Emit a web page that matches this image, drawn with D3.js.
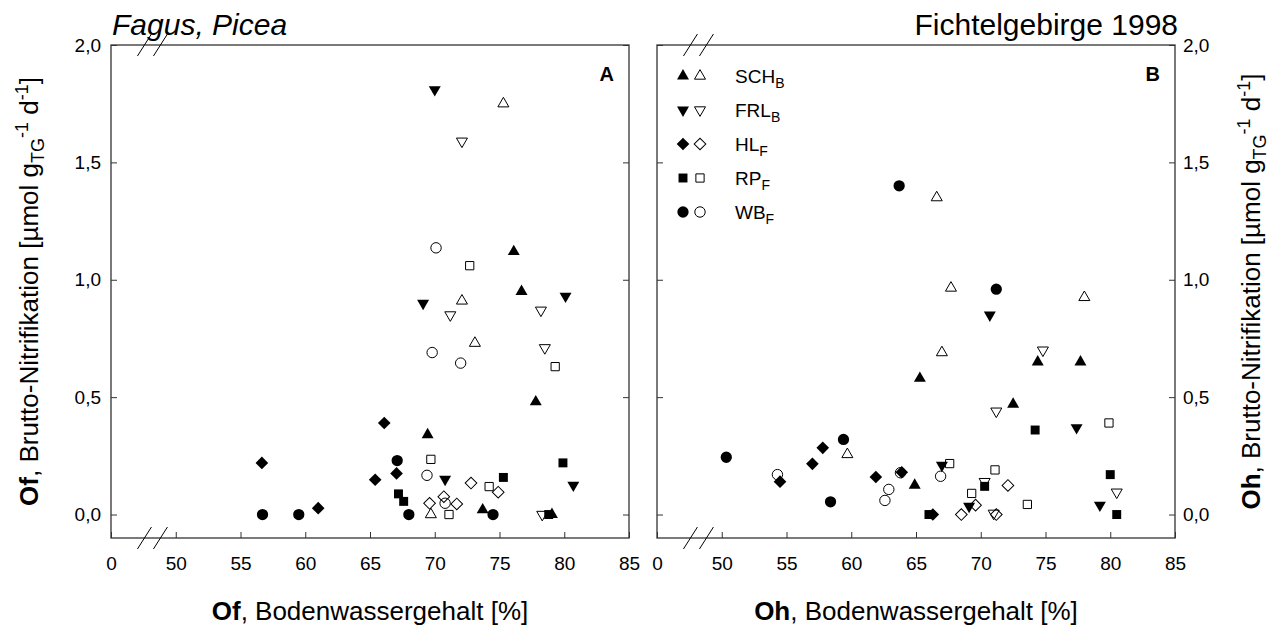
<!DOCTYPE html>
<html>
<head>
<meta charset="utf-8">
<script src="https://cdn.jsdelivr.net/npm/d3@7"></script>
<style>
  body { margin: 0; background: #fff; }
  svg { font-family: "Liberation Sans", Arial, sans-serif; }
</style>
</head>
<body>
<div id="chart"></div>
<script>
// categories and tick labels
var series = ["SCH", "FRL", "HL", "RP", "WB"];
var seriesSub = ["B", "B", "F", "F", "F"];
var xTicks = [45, 50, 55, 60, 65, 70, 75, 80, 85]; // 45 = broken axis, labelled "0"
var yTicks = [0, 0.5, 1, 1.5, 2];

// Of layer (panel A): [Bodenwassergehalt %, Brutto-Nitrifikation]
var ofSCHfilled = [[77.8, 0.48], [69.45, 0.34], [76.7, 0.95], [76.1, 1.12], [73.7, 0.02], [79.05, 0.0]];
var ofSCHopen   = [[75.3, 1.75], [72.1, 0.91], [73.1, 0.73], [69.7, 0.0]];
var ofFRLfilled = [[70.0, 1.81], [80.1, 0.93], [69.1, 0.90], [70.8, 0.15], [80.7, 0.125]];
var ofFRLopen   = [[72.1, 1.59], [71.2, 0.85], [78.2, 0.87], [78.5, 0.71], [78.3, 0.0]];
var ofHLfilled  = [[66.1, 0.39], [56.65, 0.22], [67.05, 0.175], [65.4, 0.148], [61.0, 0.027]];
var ofHLopen    = [[72.8, 0.134], [74.9, 0.095], [70.7, 0.076], [71.7, 0.045], [69.6, 0.048]];
var ofRPfilled  = [[79.9, 0.22], [75.3, 0.158], [67.2, 0.088], [67.6, 0.056], [78.8, 0.0]];
var ofRPopen    = [[72.7, 1.06], [79.3, 0.63], [69.7, 0.235], [74.2, 0.119], [71.1, 0.0]];
var ofWBfilled  = [[67.1, 0.23], [56.7, 0.0], [59.5, 0.0], [68.0, 0.0], [74.5, 0.0]];
var ofWBopen    = [[70.1, 1.136], [69.8, 0.69], [72.0, 0.645], [69.4, 0.167], [70.8, 0.048]];

// Oh layer (panel B)
var ohSCHfilled = [[72.5, 0.47], [74.4, 0.65], [77.7, 0.65], [65.3, 0.58], [64.9, 0.125]];
var ohSCHopen   = [[66.6, 1.35], [67.7, 0.965], [78.0, 0.925], [67.0, 0.69], [59.7, 0.256]];
var ohFRLfilled = [[70.7, 0.85], [77.4, 0.37], [67.0, 0.21], [69.1, 0.035], [79.2, 0.04]];
var ohFRLopen   = [[74.8, 0.70], [71.2, 0.44], [70.3, 0.14], [71.0, 0.005], [80.5, 0.095]];
var ohHLfilled  = [[54.5, 0.14], [57.0, 0.216], [57.8, 0.284], [61.9, 0.16], [63.9, 0.18], [66.3, 0.0]];
var ohHLopen    = [[72.1, 0.124], [69.6, 0.04], [68.5, 0.0], [71.2, 0.0]];
var ohRPfilled  = [[74.2, 0.36], [70.3, 0.12], [80.0, 0.17], [66.0, 0.0], [80.5, 0.0]];
var ohRPopen    = [[79.9, 0.39], [67.6, 0.217], [71.1, 0.19], [69.3, 0.09], [73.6, 0.043]];
var ohWBfilled  = [[63.7, 1.40], [71.2, 0.96], [50.35, 0.244], [59.4, 0.32], [58.4, 0.054]];
var ohWBopen    = [[54.3, 0.17], [63.8, 0.178], [62.9, 0.107], [62.6, 0.06], [66.9, 0.163]];

var ofFilled = [ofSCHfilled, ofFRLfilled, ofHLfilled, ofRPfilled, ofWBfilled];
var ofOpen   = [ofSCHopen, ofFRLopen, ofHLopen, ofRPopen, ofWBopen];
var ohFilled = [ohSCHfilled, ohFRLfilled, ohHLfilled, ohRPfilled, ohWBfilled];
var ohOpen   = [ohSCHopen, ohFRLopen, ohHLopen, ohRPopen, ohWBopen];

// symbol per series
var shapes = [
  {type: d3.symbolTriangle, rot: 0, size: 62},
  {type: d3.symbolTriangle, rot: 180, size: 62},
  {type: d3.symbolSquare, rot: 45, size: 80},
  {type: d3.symbolSquare, rot: 0, size: 80},
  {type: d3.symbolCircle, rot: 0, size: 100}
];

var width = 1280, height = 626;
var plotTop = 45, plotBottom = 538;
var axisColor = "#333";

var svg = d3.select("#chart")
  .append("svg")
    .attr("width", width)
    .attr("height", height);

var fmt = function(d) { return d3.format(".1f")(d).replace(".", ","); };

function styleAxis(g) {
  g.select(".domain").remove();
  g.attr("font-family", null).attr("font-size", 19);
  g.selectAll(".tick line").attr("stroke", axisColor);
  g.selectAll(".tick text").attr("fill", "#000");
}

function drawPanel(p) {
  var x = d3.scaleLinear().domain([45, 85]).range([p.left, p.right]);
  var y = d3.scaleLinear().domain([-0.1, 2]).range([plotBottom, plotTop]);
  var g = svg.append("g");

  // X axis
  g.append("g")
    .attr("transform", "translate(0," + plotBottom + ")")
    .call(d3.axisBottom(x).tickValues(xTicks).tickSizeInner(-6).tickSizeOuter(0)
      .tickPadding(19).tickFormat(function(d) { return d === 45 ? "0" : d; }))
    .call(styleAxis);

  // Y axes (left / right)
  g.append("g")
    .attr("transform", "translate(" + p.left + ",0)")
    .call(d3.axisLeft(y).tickValues(yTicks).tickSizeInner(-6).tickSizeOuter(0)
      .tickPadding(10).tickFormat(p.labelsLeft ? fmt : ""))
    .call(styleAxis);
  g.append("g")
    .attr("transform", "translate(" + p.right + ",0)")
    .call(d3.axisRight(y).tickValues(yTicks).tickSizeInner(-6).tickSizeOuter(0)
      .tickPadding(8).tickFormat(p.labelsLeft ? "" : fmt))
    .call(styleAxis);

  // frame
  g.append("rect")
    .attr("x", p.left).attr("y", plotTop)
    .attr("width", p.right - p.left).attr("height", plotBottom - plotTop)
    .attr("fill", "none").attr("stroke", axisColor).attr("stroke-width", 1.3);

  // axis break marks on top and bottom edge
  var bx = x(48.2);
  [plotTop, plotBottom].forEach(function(yy) {
    [-8, 8].forEach(function(off) {
      g.append("line")
        .attr("x1", bx + off - 7).attr("y1", yy + 11)
        .attr("x2", bx + off + 7).attr("y2", yy - 11)
        .attr("stroke", "#000").attr("stroke-width", 1);
    });
  });

  // open symbols first, filled on top
  p.open.forEach(function(pts, i) {
    var s = shapes[i];
    g.selectAll(null)
      .data(pts)
      .enter()
      .append("path")
        .attr("d", d3.symbol().type(s.type).size(s.size * 0.85))
        .attr("transform", function(d) { return "translate(" + x(d[0]) + "," + y(d[1]) + ") rotate(" + s.rot + ")"; })
        .attr("fill", "none")
        .attr("stroke", "#000")
        .attr("stroke-width", 1);
  });
  p.filled.forEach(function(pts, i) {
    var s = shapes[i];
    g.selectAll(null)
      .data(pts)
      .enter()
      .append("path")
        .attr("d", d3.symbol().type(s.type).size(s.size))
        .attr("transform", function(d) { return "translate(" + x(d[0]) + "," + y(d[1]) + ") rotate(" + s.rot + ")"; })
        .attr("fill", "#000");
  });

  // panel letter
  g.append("text")
    .attr("x", p.right - 15).attr("y", plotTop + 36)
    .attr("text-anchor", "end")
    .attr("font-size", 20).attr("font-weight", "bold")
    .text(p.letter);

  // x title
  var xt = g.append("text")
    .attr("x", (p.left + p.right) / 2).attr("y", 620)
    .attr("text-anchor", "middle").attr("font-size", 26);
  xt.append("tspan").attr("font-weight", "bold").text(p.layer);
  xt.append("tspan").text(", Bodenwassergehalt [%]");

  // y title
  var yt = g.append("text")
    .attr("transform", "translate(" + p.titleX + "," + ((plotTop + plotBottom) / 2) + ") rotate(-90)")
    .attr("text-anchor", "middle").attr("font-size", 26);
  yt.append("tspan").attr("font-weight", "bold").text(p.layer);
  yt.append("tspan").text(", Brutto-Nitrifikation [µmol g");
  yt.append("tspan").attr("font-size", 18).attr("dy", 6).text("TG");
  yt.append("tspan").attr("font-size", 18).attr("dy", -16).text("-1");
  yt.append("tspan").attr("dy", 10).text(" d");
  yt.append("tspan").attr("font-size", 18).attr("dy", -10).text("-1");
  yt.append("tspan").attr("dy", 10).text("]");

  return {x: x, y: y, g: g};
}

var pA = drawPanel({left: 111, right: 629, labelsLeft: true, filled: ofFilled, open: ofOpen,
  letter: "A", layer: "Of", titleX: 38});
var pB = drawPanel({left: 657, right: 1175, labelsLeft: false, filled: ohFilled, open: ohOpen,
  letter: "B", layer: "Oh", titleX: 1260});

// headers
svg.append("text")
  .attr("x", 112).attr("y", 35)
  .attr("font-size", 30).attr("font-style", "italic")
  .text("Fagus, Picea");
svg.append("text")
  .attr("x", 1178).attr("y", 35)
  .attr("text-anchor", "end").attr("font-size", 30)
  .text("Fichtelgebirge 1998");

// legend in panel B
var legend = svg.append("g").attr("transform", "translate(657,0)");
series.forEach(function(name, i) {
  var s = shapes[i];
  var ly = 76 + i * 34;
  legend.append("path")
    .attr("d", d3.symbol().type(s.type).size(s.size))
    .attr("transform", "translate(26," + ly + ") rotate(" + s.rot + ")")
    .attr("fill", "#000");
  legend.append("path")
    .attr("d", d3.symbol().type(s.type).size(s.size * 0.85))
    .attr("transform", "translate(43," + ly + ") rotate(" + s.rot + ")")
    .attr("fill", "none").attr("stroke", "#000");
  var t = legend.append("text")
    .attr("x", 78).attr("y", ly + 7)
    .attr("font-size", 19);
  t.append("tspan").text(name);
  t.append("tspan").attr("font-size", 14).attr("dy", 5).text(seriesSub[i]);
});
</script>
</body>
</html>
